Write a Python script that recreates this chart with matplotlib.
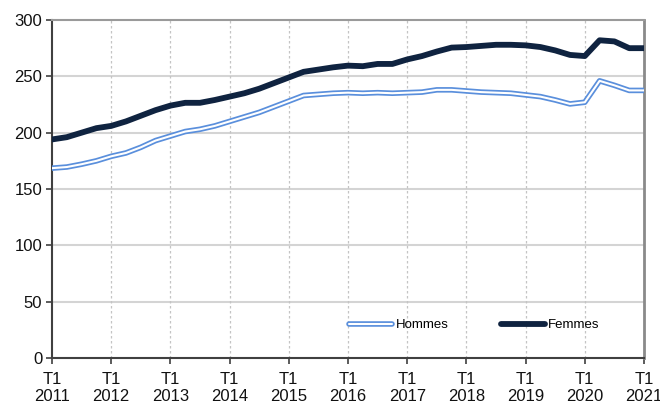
import matplotlib as mpl
import matplotlib.pyplot as plt
from matplotlib.legend_handler import HandlerTuple
import numpy as np

# Quarterly values, T1 2011 to T1 2021
YEARS = [str(y) for y in range(2011, 2022)]

HOMMES = [168.5, 169.5, 172, 175, 179, 182, 187, 193, 197, 201, 203, 206,
          210, 214, 218, 223, 228, 233, 234, 235, 235.5, 235, 235.5, 235,
          235.5, 236, 238, 238, 237, 236, 235.5, 235, 233.5, 232, 229, 225.5,
          227, 246, 242, 237.5, 237.5]

FEMMES = [194, 196, 200, 204, 206, 210, 215, 220, 224, 226.5, 226.5, 229,
          232, 235, 239, 244, 249, 254, 256, 258, 259.5, 259, 261, 261,
          265, 268, 272, 275.5, 276, 277, 278, 278, 277.5, 276, 273, 269,
          268, 282, 281, 275, 275]

BLUE = "#5A8FDC"
NAVY = "#0F2340"

mpl.rcParams.update({
    "font.family": ["Liberation Sans", "DejaVu Sans"],
    "font.size": 12,
})

x = np.arange(len(HOMMES))

fig = plt.figure(figsize=(6.6, 4.05), dpi=100)
ax = fig.add_axes([52 / 660, 47 / 405, 592 / 660, 338 / 405])

# grid
for v in range(50, 300, 50):
    ax.axhline(v, color="#d4d4d4", lw=1.5, zorder=1)
for q in range(4, 40, 4):
    ax.axvline(q, color="#c4c4c4", lw=0.9, ls=(0, (2, 2)), zorder=1)

h_outer, = ax.plot(x, HOMMES, color=BLUE, lw=4.0, solid_capstyle="round", zorder=3)
h_inner, = ax.plot(x, HOMMES, color="white", lw=1.5, solid_capstyle="round", zorder=4)
f_line, = ax.plot(x, FEMMES, color=NAVY, lw=4.2, solid_capstyle="round", zorder=5)

ax.set_xlim(0, 40)
ax.set_ylim(0, 300)
ax.set_yticks(range(0, 301, 50))
ax.set_xticks(range(0, 41, 4))
ax.set_xticklabels([f"T1\n{y}" for y in YEARS], linespacing=1.15)
ax.tick_params(axis="both", direction="out", length=4, width=1.2, color="#404040",
               labelsize=12, labelcolor="#111111")
ax.tick_params(axis="x", pad=6)
ax.tick_params(axis="y", pad=3)

for side in ("left", "bottom"):
    ax.spines[side].set_color("#404040")
    ax.spines[side].set_linewidth(1.5)
ax.spines["top"].set_color("#9a9a9a")
ax.spines["top"].set_linewidth(1.5)
ax.spines["right"].set_color("#8a8a8a")
ax.spines["right"].set_linewidth(2)

ax.legend([(h_outer, h_inner), f_line], ["Hommes", "Femmes"],
          handler_map={tuple: HandlerTuple(ndivide=1)},
          ncol=2, frameon=False, fontsize=9.5,
          handlelength=3.3, handletextpad=0.25, columnspacing=4.0,
          loc="center", bbox_to_anchor=((474 - 52) / 592, (358 - 325) / 338))

fig.savefig("out.png", dpi=100)
